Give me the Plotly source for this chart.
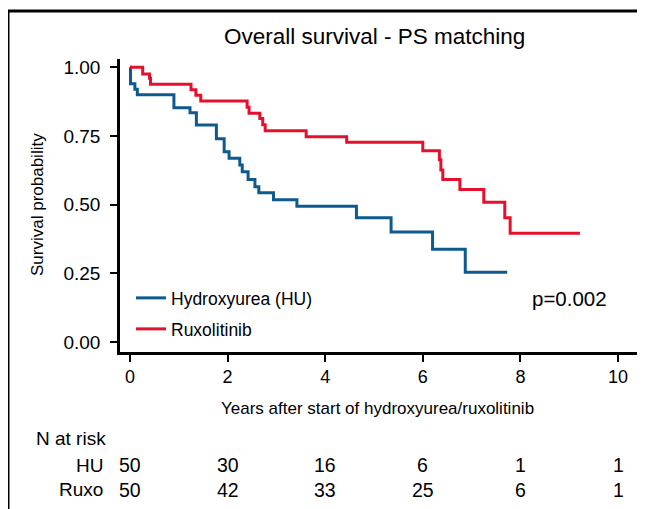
import plotly.graph_objects as go

# ---- data ----
hu_time = [0.0, 0.01, 0.10, 0.15, 0.90, 1.23, 1.36, 1.77, 1.93, 2.03, 2.25, 2.30, 2.42, 2.56, 2.64, 2.94, 3.42, 4.64, 5.35, 6.20, 6.87, 7.73]
hu_surv = [1.00, 0.94, 0.92, 0.90, 0.853, 0.835, 0.79, 0.74, 0.693, 0.669, 0.644, 0.62, 0.592, 0.565, 0.543, 0.518, 0.494, 0.452, 0.40, 0.338, 0.254, 0.254]

ruxo_time = [0.0, 0.26, 0.40, 0.42, 1.25, 1.35, 1.45, 2.40, 2.44, 2.66, 2.72, 2.77, 3.61, 4.44, 6.00, 6.34, 6.37, 6.41, 6.76, 7.25, 7.68, 7.79, 9.22]
ruxo_surv = [1.00, 0.976, 0.96, 0.938, 0.918, 0.898, 0.877, 0.855, 0.833, 0.814, 0.791, 0.769, 0.747, 0.727, 0.696, 0.663, 0.626, 0.592, 0.555, 0.509, 0.452, 0.396, 0.396]

risk_times = [0, 2, 4, 6, 8, 10]
risk_hu = [50, 30, 16, 6, 1, 1]
risk_ruxo = [50, 42, 33, 25, 6, 1]

y_ticks = [0, 0.25, 0.5, 0.75, 1.0]
y_ticklabels = ["0.00", "0.25", "0.50", "0.75", "1.00"]
x_ticks = [0, 2, 4, 6, 8, 10]

BLUE = "#0e5a8f"
RED = "#e5102d"
FONT = "Liberation Sans, Arial, Helvetica, sans-serif"

# page body has an 8px margin: figure is drawn from (8, 8) of the window
OFF = 8
W, H = 637, 501
# plot area in window pixels: x 120..637, y 59..352
PX0, PX1, PY0, PY1 = 120, 637, 59, 352
L, R = PX0 - OFF, W - (PX1 - OFF)
T, B = PY0 - OFF, H - (PY1 - OFF)
pw, ph = PX1 - PX0, PY1 - PY0


def px(X):
    return (X - PX0) / pw


def py(Y):
    return (PY1 - Y) / ph


fig = go.Figure()
fig.add_trace(go.Scatter(x=hu_time, y=hu_surv, mode="lines", line=dict(color=BLUE, width=3, shape="hv"),
                         name="Hydroxyurea (HU)", legend="legend"))
fig.add_trace(go.Scatter(x=ruxo_time, y=ruxo_surv, mode="lines", line=dict(color=RED, width=3, shape="hv"),
                         name="Ruxolitinib", legend="legend2"))

ann = []


def txt(s, X, Y, size, anchor="center", xref="paper", angle=0):
    ann.append(dict(text=s, x=X, y=Y, xref=xref, yref="paper", showarrow=False, textangle=angle,
                    xanchor=anchor, yanchor="middle", font=dict(size=size, color="black", family=FONT)))


txt("Overall survival - PS matching", px(374), py(37), 22.5)
txt("Years after start of hydroxyurea/ruxolitinib", px(377), py(408), 17)
txt("Survival probability", px(37), py(205), 17, angle=-90)
txt("p=0.002", px(530), py(298), 20.5, anchor="left")
txt("N at risk", px(34), py(438), 19, anchor="left")
txt("HU", px(105), py(465), 19, anchor="right")
txt("Ruxo", px(105), py(490), 19, anchor="right")
for t, n1, n2 in zip(risk_times, risk_hu, risk_ruxo):
    txt(str(n1), t, py(465), 19.5, xref="x")
    txt(str(n2), t, py(490), 19.5, xref="x")

shapes = [
    dict(type="line", xref="paper", yref="paper", x0=px(8), x1=px(8), y0=py(10), y1=py(520), line=dict(color="black", width=3)),
    dict(type="line", xref="paper", yref="paper", x0=px(7), x1=px(650), y0=py(11), y1=py(11), line=dict(color="black", width=3)),
    dict(type="line", xref="paper", yref="paper", x0=px(641), x1=px(641), y0=py(10), y1=py(520), line=dict(color="black", width=3)),
]

x_per_unit = 48.8
xmin = -(130 - PX0) / x_per_unit
xmax = xmin + pw / x_per_unit
y_per_unit = 274.7
ymin = -(PY1 - 342) / y_per_unit
ymax = ymin + ph / y_per_unit

fig.update_layout(
    width=W, height=H,
    margin=dict(l=L, r=R, t=T, b=B, autoexpand=False),
    paper_bgcolor="white", plot_bgcolor="white",
    font=dict(family=FONT, color="black"),
    annotations=ann, shapes=shapes,
    showlegend=True,
    legend=dict(x=px(131), y=py(298), xanchor="left", yanchor="middle", bgcolor="rgba(0,0,0,0)",
                font=dict(size=17.5, color="black", family=FONT), itemwidth=30, tracegroupgap=0),
    legend2=dict(x=px(131), y=py(329), xanchor="left", yanchor="middle", bgcolor="rgba(0,0,0,0)",
                 font=dict(size=17.5, color="black", family=FONT), itemwidth=30, tracegroupgap=0),
    xaxis=dict(range=[xmin, xmax], tickvals=x_ticks, ticks="outside", ticklen=7, tickwidth=2, tickcolor="black",
               showline=True, linewidth=2.5, linecolor="black", showgrid=False, zeroline=False,
               tickfont=dict(size=18, family=FONT, color="black")),
    yaxis=dict(range=[ymin, ymax], tickvals=y_ticks, ticktext=y_ticklabels, ticks="outside", ticklen=7, tickwidth=2,
               tickcolor="black", showline=True, linewidth=2.5, linecolor="black", showgrid=False, zeroline=False,
               ticklabelstandoff=6, tickfont=dict(size=19, family=FONT, color="black")),
)

fig.write_html("out.html")
